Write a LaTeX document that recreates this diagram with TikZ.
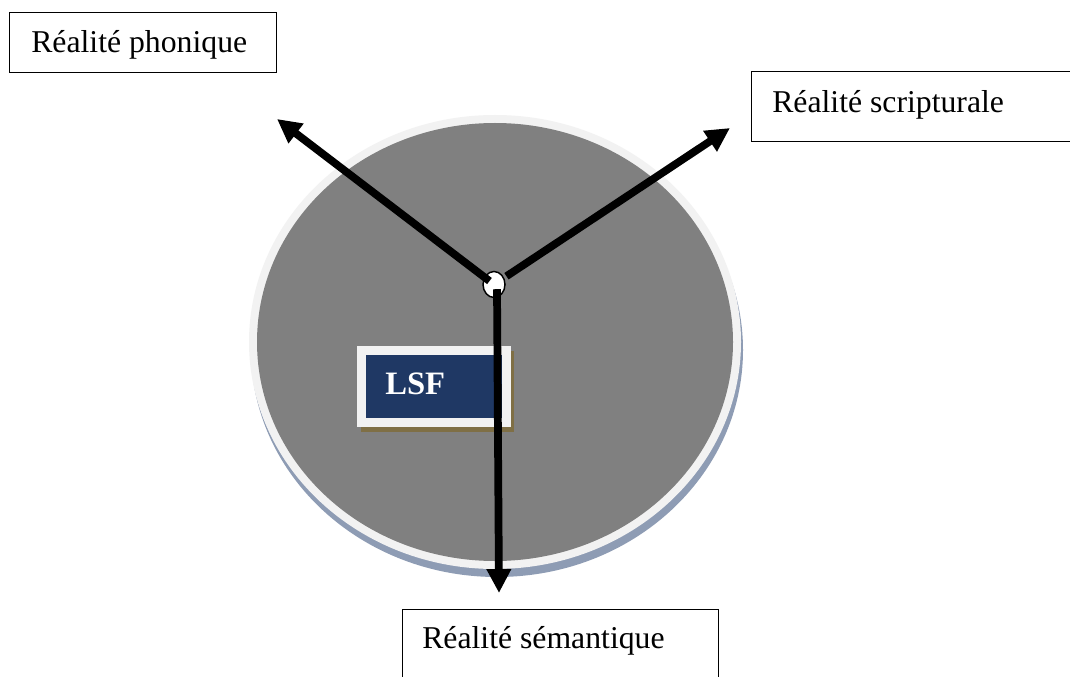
\documentclass[tikz,border=0pt]{standalone}
\usepackage{fontspec}
\setmainfont{Liberation Serif}
\usetikzlibrary{arrows.meta,shapes.geometric,calc}
\definecolor{discgray}{HTML}{808080}
\definecolor{ringcol}{HTML}{F2F2F2}
\definecolor{discshadow}{HTML}{8E9CB4}
\definecolor{lsfnavy}{HTML}{1F3864}
\definecolor{lsfshadow}{HTML}{7F6F45}
\begin{document}
\begin{tikzpicture}[x=0.75pt,y=-0.75pt,
  labelbox/.style={draw=black, line width=1.1pt, rectangle, inner sep=0pt, anchor=north west},
  lbl/.style={font=\fontsize{23.8}{28}\selectfont, inner sep=0pt, anchor=base west},
  arr/.style={line width=5.8pt, -{Triangle[length=18pt,width=17.5pt]}},
]
\clip (0,0) rectangle (1070,677);
\fill[white] (0,0) rectangle (1070,677);
% disc with ring and shadow
\fill[discshadow] (497,350) ellipse [x radius=246, y radius=227];
\fill[ringcol] (495,342) ellipse [x radius=246, y radius=227];
\fill[discgray] (495,342) ellipse [x radius=238, y radius=219];
% LSF box
\fill[lsfshadow] (360.5,351) rectangle (513.5,432);
\node[rectangle, fill=lsfnavy, draw=ringcol, line width=6.75pt, inner sep=0pt,
      minimum width=144.5*0.75pt, minimum height=71.5*0.75pt] (lsf) at (433.75,386.25) {};
\node[lbl, font=\fontsize{24.5}{28}\selectfont\bfseries, text=white] (lsftext) at (385,394) {LSF};
% centre
\node[ellipse, draw=black, fill=white, line width=1.1pt, inner sep=0pt,
      minimum width=22*0.75pt, minimum height=26*0.75pt] (c) at (494,284.5) {};
% label boxes
\node[labelbox, minimum width=267*0.75pt, minimum height=60*0.75pt] (phon) at (9,12) {};
\node[lbl] (phont) at (31,53) {Réalité phonique};
\node[labelbox, minimum width=330*0.75pt, minimum height=70*0.75pt] (scri) at (751,71) {};
\node[lbl] (scrit) at (772,113) {Réalité scripturale};
\node[labelbox, minimum width=316*0.75pt, minimum height=90*0.75pt] (sem) at (402,609) {};
\node[lbl] (semt) at (422,648) {Réalité sémantique};
% arrows
\coordinate (tipP) at (277,119);
\coordinate (tipS) at (730,128);
\coordinate (tipD) at (499,593);
\draw[arr, shorten <=-5pt] (c) -- (tipP);
\draw[arr, shorten <=2pt] (c) -- (tipS);
\draw[arr] ([xshift=2.25pt,yshift=6.75pt]c.south) -- (tipD);
\end{tikzpicture}
\end{document}
